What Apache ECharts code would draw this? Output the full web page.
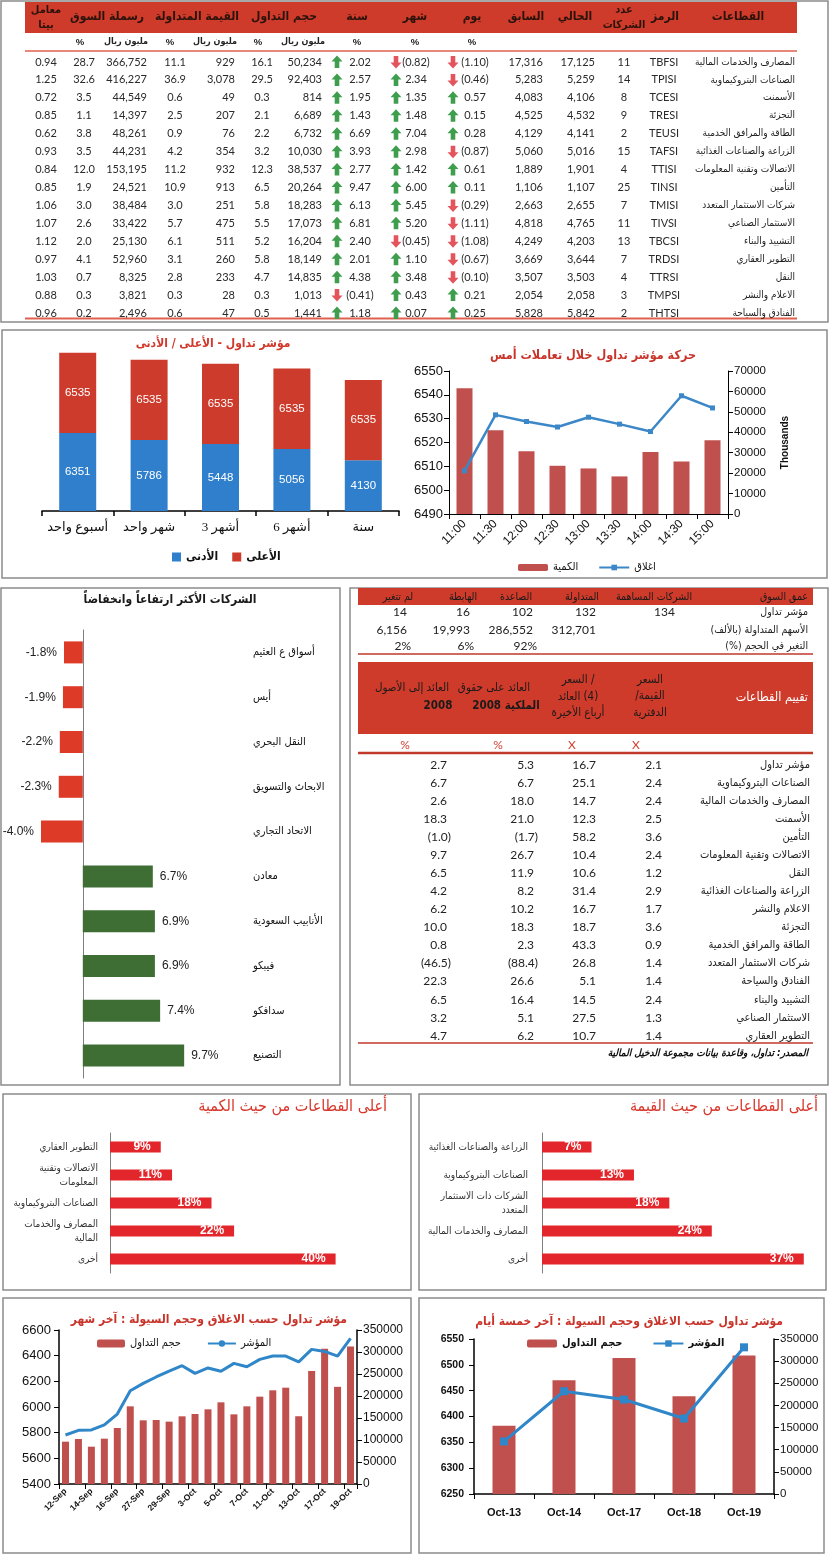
<!DOCTYPE html>
<html><head><meta charset="utf-8">
<script src="https://cdn.jsdelivr.net/npm/echarts@6/dist/echarts.min.js"></script>
<style>html,body{margin:0;padding:0;background:#fff}#c{width:830px;height:1556px}</style>
</head><body><div id="c"></div>
<script>
// ===== Panel 1: sector table =====
const sectorNames = ['المصارف والخدمات المالية','الصناعات البتروكيماوية','الأسمنت','التجزئة','الطاقة والمرافق الخدمية','الزراعة والصناعات الغذائية','الاتصالات وتقنية المعلومات','التأمين','شركات الاستثمار المتعدد','الاستثمار الصناعي','التشييد والبناء','التطوير العقاري','النقل','الاعلام والنشر','الفنادق والسياحة'];
const sectorCodes = ['TBFSI','TPISI','TCESI','TRESI','TEUSI','TAFSI','TTISI','TINSI','TMISI','TIVSI','TBCSI','TRDSI','TTRSI','TMPSI','THTSI'];
const companyCounts = [11,14,8,9,2,15,4,25,7,11,13,7,4,3,2];
const closeCurrent = [17125,5259,4106,4532,4141,5016,1901,1107,2655,4765,4203,3644,3503,2058,5842];
const closePrevious = [17316,5283,4083,4525,4129,5060,1889,1106,2663,4818,4249,3669,3507,2054,5828];
const changeDay = [-1.10,-0.46,0.57,0.15,0.28,-0.87,0.61,0.11,-0.29,-1.11,-1.08,-0.67,-0.10,0.21,0.25];
const changeMonth = [-0.82,2.34,1.35,1.48,7.04,2.98,1.42,6.00,5.45,5.20,-0.45,1.10,3.48,0.43,0.07];
const changeYear = [2.02,2.57,1.95,1.43,6.69,3.93,2.77,9.47,6.13,6.81,2.40,2.01,4.38,-0.41,1.18];
const tradeVolume = [50234,92403,814,6689,6732,10030,38537,20264,18283,17073,16204,18149,14835,1013,1441];
const tradeVolumePct = [16.1,29.5,0.3,2.1,2.2,3.2,12.3,6.5,5.8,5.5,5.2,5.8,4.7,0.3,0.5];
const tradedValue = [929,3078,49,207,76,354,932,913,251,475,511,260,233,28,47];
const tradedValuePct = [11.1,36.9,0.6,2.5,0.9,4.2,11.2,10.9,3.0,5.7,6.1,3.1,2.8,0.3,0.6];
const marketCap = [366752,416227,44549,14397,48261,44231,153195,24521,38484,33422,25130,52960,8325,3821,2496];
const marketCapPct = [28.7,32.6,3.5,1.1,3.8,3.5,12.0,1.9,3.0,2.6,2.0,4.1,0.7,0.3,0.2];
const betaValues = [0.94,1.25,0.72,0.85,0.62,0.93,0.84,0.85,1.06,1.07,1.12,0.97,1.03,0.88,0.96];

// ===== Panel 2 =====
const rangeCats = ['أسبوع واحد','شهر واحد','أشهر 3','أشهر 6','سنة'];
const rangeLow = [6351,5786,5448,5056,4130];
const rangeHigh = [6535,6535,6535,6535,6535];
const intradayTimes = ['11:00','11:30','12:00','12:30','13:00','13:30','14:00','14:30','15:00'];
const intradayVolume = [61500,41000,30700,23600,22300,18400,30300,25700,36100];
const intradayClose = [6508.1,6531.6,6528.8,6526.5,6530.6,6527.7,6524.6,6539.6,6534.5];

// ===== Panel 3 =====
const moverNames = ['أسواق ع العثيم','أيس','النقل البحري','الابحاث والتسويق','الاتحاد التجاري','معادن','الأنابيب السعودية','فيبكو','سدافكو','التصنيع'];
const moverChange = [-1.8,-1.9,-2.2,-2.3,-4.0,6.7,6.9,6.9,7.4,9.7];
const depthHeaders = ['الشركات المساهمة','المتداولة','الصاعدة','الهابطة','لم تتغير'];
const depthRowLabels = ['مؤشر تداول','الأسهم المتداولة (بالألف)\u200F','التغير في الحجم (%)\u200F'];
const depthCompanies = [134,132,102,16,14];
const depthShares = [null,312701,286552,19993,6156];
const depthSharePct = [null,null,92,6,2];
const valuationNames = ['مؤشر تداول','الصناعات البتروكيماوية','المصارف والخدمات المالية','الأسمنت','التأمين','الاتصالات وتقنية المعلومات','النقل','الزراعة والصناعات الغذائية','الاعلام والنشر','التجزئة','الطاقة والمرافق الخدمية','شركات الاستثمار المتعدد','الفنادق والسياحة','التشييد والبناء','الاستثمار الصناعي','التطوير العقاري'];
const priceToBook = [2.1,2.4,2.4,2.5,3.6,2.4,1.2,2.9,1.7,3.6,0.9,1.4,1.4,2.4,1.3,1.4];
const priceToEarnings = [16.7,25.1,14.7,12.3,58.2,10.4,10.6,31.4,16.7,18.7,43.3,26.8,5.1,14.5,27.5,10.7];
const returnOnEquity = [5.3,6.7,18.0,21.0,-1.7,26.7,11.9,8.2,10.2,18.3,2.3,-88.4,26.6,16.4,5.1,6.2];
const returnOnAssets = [2.7,6.7,2.6,18.3,-1.0,9.7,6.5,4.2,6.2,10.0,0.8,-46.5,22.3,6.5,3.2,4.7];

// ===== Panel 4 =====
const volumeLeaders = ['التطوير العقاري','الاتصالات وتقنية المعلومات','الصناعات البتروكيماوية','المصارف والخدمات المالية','أخرى'];
const volumeShare = [9,11,18,22,40];
const valueLeaders = ['الزراعة والصناعات الغذائية','الصناعات البتروكيماوية','الشركات ذات الاستثمار المتعدد','المصارف والخدمات المالية','أخرى'];
const valueShare = [7,13,18,24,37];

// ===== Panel 5 =====
const monthDates = ['12-Sep','13-Sep','14-Sep','15-Sep','16-Sep','26-Sep','27-Sep','28-Sep','29-Sep','30-Sep','3-Oct','4-Oct','5-Oct','6-Oct','7-Oct','10-Oct','11-Oct','12-Oct','13-Oct','14-Oct','17-Oct','18-Oct','19-Oct'];
const monthVolume = [96200,102300,84800,103000,127300,176500,144700,145500,141700,153800,159100,169700,185600,158300,176500,198500,212900,218900,154000,256900,307200,220800,312701];
const monthIndex = [5782,5818,5821,5860,5945,6127,6184,6234,6280,6322,6262,6304,6278,6340,6314,6371,6397,6397,6352,6449,6433,6396,6534];
const weekDates = ['Oct-13','Oct-14','Oct-17','Oct-18','Oct-19'];
const weekVolume = [154000,256900,307200,220800,312701];
const weekIndex = [6351.7,6448.9,6432.8,6396.1,6533.9];

// ===== styles =====
const SANS = "'Liberation Sans','DejaVu Sans Condensed','DejaVu Sans',sans-serif";
const TAB = "Lato,'DejaVu Sans Condensed','DejaVu Sans',sans-serif";
const ARF = "'DejaVu Sans Condensed','DejaVu Sans',sans-serif";
const RED_HDR = '#cf3b2a';
const BAR_RED = '#c0504d';
const LINE_BLUE = '#2f86c8';

const fmtInt = v => v.toLocaleString('en-US');
const fmtChg = v => v < 0 ? '(' + Math.abs(v).toFixed(2) + ')' : v.toFixed(2);
const fmt1 = v => v < 0 ? '(' + Math.abs(v).toFixed(1) + ')' : v.toFixed(1);
const plain = v => String(v);

function T(x, y, text, o) {
  o = o || {};
  const font = (o.italic ? 'italic ' : '') + (o.bold ? 'bold ' : '') + (o.size || 11) + 'px ' + (o.family || TAB);
  const al = o.align || 'center';
  return {type:'text', x:x, y:y, silent:true, z:20,
    style:{text:String(text), fill:o.color || '#222', font:font, align:al, textAlign:al, verticalAlign:'middle', textVerticalAlign:'middle'}};
}
function R(x, y, w, h, fill, stroke, lw) {
  return {type:'rect', silent:true, z:fill && fill !== 'none' ? 5 : 1, shape:{x:x, y:y, width:w, height:h},
    style:{fill:fill || 'none', stroke:stroke || null, lineWidth:lw || 1}};
}
function L(x1, y1, x2, y2, color, w) {
  return {type:'line', silent:true, z:6, shape:{x1:x1, y1:y1, x2:x2, y2:y2}, style:{stroke:color, lineWidth:w}};
}
function arrow(cx, cy, up) {
  const s = up ? -1 : 1;
  const pts = [[cx, cy + s*6.5],[cx+5.5, cy + s*0.5],[cx+2.3, cy + s*0.5],[cx+2.3, cy - s*6],[cx-2.3, cy - s*6],[cx-2.3, cy + s*0.5],[cx-5.5, cy + s*0.5]];
  return {type:'polygon', silent:true, z:20, shape:{points:pts}, style:{fill: up ? '#3f9e4d' : '#e3545c'}};
}

const g = [];
// panel boxes
[[1,1,827,321],[2,330,825,248],[1,588,339,497],[350,588,478,497],[3,1094,408,196],[419,1094,407,196],[3,1298,408,255],[419,1298,405,255]]
  .forEach(b => g.push(R(b[0], b[1], b[2], b[3], 'none', '#8c8c8c', 1.5)));

// ---- top table ----
g.push(R(25, 2, 772, 31, RED_HDR));
const hdrC = '#2b130c';
[['القطاعات',738],['الرمز',665],['الحالي',575],['السابق',526],['يوم',472],['شهر',415],['سنة',357],['حجم التداول',284],['القيمة المتداولة',197],['رسملة السوق',107]]
  .forEach(h => g.push(T(h[1], 17, h[0], {bold:true, size:12, family:ARF, color:hdrC})));
g.push(T(624, 10, 'عدد', {bold:true, size:11, family:ARF, color:hdrC}));
g.push(T(624, 25, 'الشركات', {bold:true, size:11, family:ARF, color:hdrC}));
g.push(T(46, 10, 'معامل', {bold:true, size:11, family:ARF, color:hdrC}));
g.push(T(46, 25, 'بيتا', {bold:true, size:11, family:ARF, color:hdrC}));
[472,415,357,258,170,80].forEach(x => g.push(T(x, 42, '%', {bold:true, size:9.5, family:SANS})));
[303,215,126].forEach(x => g.push(T(x, 42, 'مليون ريال', {bold:true, size:9, family:ARF})));
g.push(L(25, 51, 797, 51, '#e0604f', 1.5));
g.push(L(25, 318.5, 797, 318.5, '#e0604f', 2));
const topCols = [
  {v:betaValues, f:v => v.toFixed(2), x:46, a:'center'},
  {v:marketCapPct, f:v => v.toFixed(1), x:84, a:'center'},
  {v:marketCap, f:fmtInt, x:147, a:'right'},
  {v:tradedValuePct, f:v => v.toFixed(1), x:175, a:'center'},
  {v:tradedValue, f:fmtInt, x:235, a:'right'},
  {v:tradeVolumePct, f:v => v.toFixed(1), x:262, a:'center'},
  {v:tradeVolume, f:fmtInt, x:322, a:'right'},
  {v:changeYear, f:fmtChg, x:360, a:'center', arrow:337},
  {v:changeMonth, f:fmtChg, x:416, a:'center', arrow:396},
  {v:changeDay, f:fmtChg, x:475, a:'center', arrow:453},
  {v:closePrevious, f:fmtInt, x:543, a:'right'},
  {v:closeCurrent, f:fmtInt, x:595, a:'right'},
  {v:companyCounts, f:String, x:624, a:'center'},
  {v:sectorCodes, f:String, x:664, a:'center'}
];
sectorNames.forEach((name, i) => {
  const y = 62 + i * 17.93;
  topCols.forEach(c => {
    const val = c.v[i];
    g.push(T(c.x, y, c.f(val), {align:c.a, size:11, color:'#2a2a2a'}));
    if (c.arrow) g.push(arrow(c.arrow, y, val >= 0));
  });
  g.push(T(795, y, name, {align:'right', size:10, family:ARF, color:'#1e1e1e'}));
});

// ---- depth table ----
g.push(R(358, 588, 455, 17, RED_HDR));
g.push(T(808, 597, 'عمق السوق', {align:'right', size:10.5, family:ARF, color:'#1a1a1a'}));
[654,582,516,463,398].forEach((x, j) => g.push(T(x, 597, depthHeaders[j], {size:10.5, family:ARF, color:'#1a1a1a'})));
const depthRight = [675,596,533,470,407];
const depthY = [612,630,646];
depthRowLabels.forEach((lab, r) => g.push(T(808, depthY[r], lab, {align:'right', size:10.5, family:ARF})));
depthCompanies.forEach((v, j) => { if (v !== null) g.push(T(depthRight[j], depthY[0], fmtInt(v), {align:'right', size:12})); });
depthShares.forEach((v, j) => { if (v !== null) g.push(T(depthRight[j], depthY[1], fmtInt(v), {align:'right', size:12})); });
depthSharePct.forEach((v, j) => { if (v !== null) g.push(T(depthRight[j] + 4, depthY[2], v + '%', {align:'right', size:12})); });
g.push(L(358, 654, 813, 654, '#c0392b', 1.5));

// ---- valuation table ----
g.push(R(358, 662, 455, 72, RED_HDR));
g.push(T(808, 698, 'تقييم القطاعات', {align:'right', size:12.5, family:ARF, color:'#ffffff'}));
const vh = {size:11.5, family:ARF, color:'#1a1a1a'};
g.push(T(650, 680, 'السعر', vh));
g.push(T(650, 696, '/القيمة', vh));
g.push(T(650, 713, 'الدفترية', vh));
g.push(T(578, 680, 'السعر /', vh));
g.push(T(578, 697, 'العائد\u200E (4)', vh));
g.push(T(578, 713, 'أرباع الأخيرة', vh));
g.push(T(494, 688, 'العائد على حقوق', vh));
g.push(T(506, 706, '2008\u200E الملكية', Object.assign({}, vh, {bold:true})));
g.push(T(412, 688, 'العائد إلى الأصول', vh));
g.push(T(438, 706, '2008', Object.assign({}, vh, {bold:true})));
[[405,'%'],[498,'%'],[572,'X'],[636,'X']].forEach(u => g.push(T(u[0], 745, u[1], {size:12, color:'#d04030'})));
g.push(L(358, 753, 813, 753, '#c0392b', 2.5));
const valCols = [
  {v:priceToBook, x:662},
  {v:priceToEarnings, x:596},
  {v:returnOnEquity, x:534},
  {v:returnOnAssets, x:447}
];
valuationNames.forEach((name, i) => {
  const y = 765 + i * 18.05;
  g.push(T(810, y, name, {align:'right', size:11, family:ARF}));
  valCols.forEach(c => {
    const v = c.v[i];
    g.push(T(c.x + (v < 0 ? 4 : 0), y, fmt1(v), {align:'right', size:12}));
  });
});
g.push(L(358, 1043, 813, 1043, '#c0392b', 1.5));
g.push(T(808, 1053, 'المصدر: تداول، وقاعدة بيانات مجموعة الدخيل المالية', {align:'right', size:10, bold:true, italic:true, family:ARF, color:'#111'}));

// ---- chart titles ----
g.push(T(213, 344, 'مؤشر تداول - الأعلى / الأدنى', {bold:true, size:12, family:ARF, color:'#d0392b'}));
g.push(T(593, 356, 'حركة مؤشر تداول خلال تعاملات أمس', {bold:true, size:12.5, family:ARF, color:'#c8342a'}));
g.push(T(170, 600, 'الشركات الأكثر ارتفاعاً وانخفاضاً', {bold:true, size:12, family:ARF, color:'#1a1a1a'}));
g.push(T(387, 1107, 'أعلى القطاعات من حيث الكمية', {align:'right', size:16, family:ARF, color:'#d8362b'}));
g.push(T(818, 1107, 'أعلى القطاعات من حيث القيمة', {align:'right', size:16, family:ARF, color:'#d8362b'}));
g.push(T(347, 1320, 'مؤشر تداول حسب الاغلاق وحجم السيولة : آخر شهر', {align:'right', bold:true, size:12, family:ARF, color:'#c8342a'}));
g.push(T(783, 1322, 'مؤشر تداول حسب الاغلاق وحجم السيولة : آخر خمسة أيام', {align:'right', bold:true, size:12, family:ARF, color:'#c8342a'}));

function wrapWords(name, minWords) {
  const w = name.split(' ');
  if (w.length >= minWords) return w.slice(0, -1).join(' ') + '\n' + w[w.length - 1];
  return name;
}

const blackLine = {lineStyle:{color:'#000', width:1}};
const blackLine15 = {lineStyle:{color:'#000', width:1.5}};
const lab = (size, extra) => Object.assign({fontSize:size, color:'#111', fontFamily:SANS}, extra || {});

const option = {
  animation:false,
  textStyle:{fontFamily:SANS},
  grid:[
    {left:42, top:339, width:357, height:172, outerBoundsMode:'none'},
    {left:449, top:371, width:279, height:143, outerBoundsMode:'none'},
    {left:41, top:630, width:209, height:448, outerBoundsMode:'none'},
    {left:110, top:1133, width:282, height:140, outerBoundsMode:'none'},
    {left:542, top:1133, width:283, height:140, outerBoundsMode:'none'},
    {left:59, top:1330, width:298, height:154, outerBoundsMode:'none'},
    {left:474, top:1339, width:300, height:155, outerBoundsMode:'none'}
  ],
  xAxis:[
    {gridIndex:0, type:'category', data:rangeCats, axisLine:blackLine15, axisTick:{show:true, length:5, lineStyle:{color:'#000', width:1.5}},
      axisLabel:lab(13, {fontFamily:"'Liberation Serif','DejaVu Sans',serif", margin:10, interval:0})},
    {gridIndex:1, type:'category', data:intradayTimes, axisLine:blackLine, axisTick:{show:true, lineStyle:{color:'#000'}},
      axisLabel:lab(12, {rotate:45, margin:8, interval:0})},
    {gridIndex:2, type:'value', min:-4, max:16, show:false},
    {gridIndex:3, type:'value', min:0, max:50, show:false},
    {gridIndex:4, type:'value', min:0, max:40, show:false},
    {gridIndex:5, type:'category', data:monthDates, axisLine:blackLine15, axisTick:{show:true, lineStyle:{color:'#000'}},
      axisLabel:lab(8.5, {rotate:45, interval:1, fontWeight:'bold', margin:6})},
    {gridIndex:6, type:'category', data:weekDates, axisLine:blackLine15, axisTick:{show:true, lineStyle:{color:'#000'}},
      axisLabel:lab(11, {fontWeight:'bold', margin:13, interval:0})}
  ],
  yAxis:[
    {gridIndex:0, type:'value', min:0, max:14000, show:false},
    {gridIndex:1, type:'value', min:6490, max:6550, interval:10, axisLine:{show:true, lineStyle:{color:'#000'}}, axisTick:{show:true, lineStyle:{color:'#000'}},
      splitLine:{show:false}, axisLabel:lab(13, {margin:6, formatter:plain})},
    {gridIndex:1, type:'value', position:'right', min:0, max:70000, interval:10000, axisLine:{show:true, lineStyle:{color:'#000'}}, axisTick:{show:true, lineStyle:{color:'#000'}},
      splitLine:{show:false}, axisLabel:lab(11.5, {margin:6, formatter:plain}), name:'Thousands', nameLocation:'middle', nameRotate:90, nameGap:52,
      nameTextStyle:{fontSize:10, fontWeight:'bold', color:'#111', fontFamily:SANS}},
    {gridIndex:2, type:'category', data:moverNames, inverse:true, axisLine:{show:true, onZero:true, lineStyle:{color:'#7f7f7f', width:1}},
      axisTick:{show:false}, axisLabel:{show:false}},
    {gridIndex:2, type:'category', data:moverNames, inverse:true, position:'right', axisLine:{show:false, onZero:false},
      axisTick:{show:false}, axisLabel:lab(11, {align:'left', margin:3, fontFamily:ARF, interval:0})},
    {gridIndex:3, type:'category', data:volumeLeaders, inverse:true, axisLine:{show:true, lineStyle:{color:'#808080'}}, axisTick:{show:false},
      axisLabel:lab(10, {margin:12, color:'#333', fontFamily:ARF, lineHeight:14, interval:0, formatter:v => wrapWords(v, 3)})},
    {gridIndex:4, type:'category', data:valueLeaders, inverse:true, axisLine:{show:true, lineStyle:{color:'#808080'}}, axisTick:{show:false},
      axisLabel:lab(10, {margin:14, color:'#333', fontFamily:ARF, lineHeight:14, interval:0, formatter:v => wrapWords(v, 4)})},
    {gridIndex:5, type:'value', min:5400, max:6600, interval:200, axisLine:{show:true, lineStyle:{color:'#000', width:1.5}}, axisTick:{show:true, lineStyle:{color:'#000'}},
      splitLine:{show:false}, axisLabel:lab(13, {margin:8, formatter:plain})},
    {gridIndex:5, type:'value', position:'right', min:0, max:350000, interval:50000, axisLine:{show:true, lineStyle:{color:'#000', width:1.5}}, axisTick:{show:true, lineStyle:{color:'#000'}},
      splitLine:{show:false}, axisLabel:lab(12, {margin:6, formatter:plain})},
    {gridIndex:6, type:'value', min:6250, max:6550, interval:50, axisLine:{show:true, lineStyle:{color:'#000', width:1.5}}, axisTick:{show:true, lineStyle:{color:'#000'}},
      splitLine:{show:false}, axisLabel:lab(10.5, {fontWeight:'bold', margin:10, formatter:plain})},
    {gridIndex:6, type:'value', position:'right', min:0, max:350000, interval:50000, axisLine:{show:true, lineStyle:{color:'#000', width:1.5}}, axisTick:{show:true, lineStyle:{color:'#000'}},
      splitLine:{show:false}, axisLabel:lab(11.5, {margin:6, formatter:plain})}
  ],
  legend:[
    {data:['الأدنى','الأعلى'], left:172, top:551, itemWidth:9, itemHeight:9, itemGap:14, icon:'rect', padding:0, selectedMode:false,
      textStyle:{fontSize:12, fontWeight:'bold', color:'#111', fontFamily:ARF}},
    {data:['الكمية','اغلاق'], left:518, top:562, itemWidth:30, itemHeight:7, itemGap:20, padding:0, selectedMode:false,
      textStyle:{fontSize:11, color:'#111', fontFamily:ARF}},
    {data:['حجم التداول','المؤشر'], left:97, top:1338, itemWidth:28, itemHeight:8, itemGap:26, padding:0, selectedMode:false,
      textStyle:{fontSize:11, color:'#111', fontFamily:ARF}},
    {data:['حجم التداول\u200F','المؤشر\u200F'], left:527, top:1338, itemWidth:30, itemHeight:8, itemGap:30, padding:0, selectedMode:false,
      textStyle:{fontSize:11, fontWeight:'bold', color:'#111', fontFamily:ARF}}
  ],
  series:[
    {type:'bar', name:'الأدنى', xAxisIndex:0, yAxisIndex:0, stack:'hl', data:rangeLow, barWidth:37, itemStyle:{color:'#2f7fcc'},
      label:{show:true, position:'inside', color:'#fff', fontSize:11.5}},
    {type:'bar', name:'الأعلى', xAxisIndex:0, yAxisIndex:0, stack:'hl', data:rangeHigh, barWidth:37, itemStyle:{color:'#cc3b2b'},
      label:{show:true, position:'inside', color:'#fff', fontSize:11.5}},
    {type:'bar', name:'الكمية', xAxisIndex:1, yAxisIndex:2, data:intradayVolume, barWidth:16, itemStyle:{color:BAR_RED}},
    {type:'line', name:'اغلاق', xAxisIndex:1, yAxisIndex:1, data:intradayClose, symbol:'rect', symbolSize:5,
      lineStyle:{color:'#3b87c7', width:2.5}, itemStyle:{color:'#3b87c7'}},
    {type:'bar', name:'movers', xAxisIndex:2, yAxisIndex:3, barWidth:22,
      data:moverChange.map(v => ({value:v, itemStyle:{color: v < 0 ? '#dd3a28' : '#3f6e35'}, label:{position: v < 0 ? 'left' : 'right'}})),
      label:{show:true, distance:7, fontSize:12, color:'#222', formatter:p => p.value.toFixed(1) + '%'}},
    {type:'bar', name:'vol', xAxisIndex:3, yAxisIndex:5, data:volumeShare, barWidth:11, itemStyle:{color:'#e2262b'},
      label:{show:true, position:'insideRight', distance:10, formatter:'{c}%', color:'#fff', fontWeight:'bold', fontSize:12}},
    {type:'bar', name:'val', xAxisIndex:4, yAxisIndex:6, data:valueShare, barWidth:11, itemStyle:{color:'#e2262b'},
      label:{show:true, position:'insideRight', distance:10, formatter:'{c}%', color:'#fff', fontWeight:'bold', fontSize:12}},
    {type:'bar', name:'حجم التداول', xAxisIndex:5, yAxisIndex:8, data:monthVolume, barWidth:7, itemStyle:{color:BAR_RED}},
    {type:'line', name:'المؤشر', xAxisIndex:5, yAxisIndex:7, data:monthIndex, symbol:'none',
      lineStyle:{color:LINE_BLUE, width:3}, itemStyle:{color:LINE_BLUE}},
    {type:'bar', name:'حجم التداول\u200F', xAxisIndex:6, yAxisIndex:10, data:weekVolume, barWidth:23, itemStyle:{color:BAR_RED}},
    {type:'line', name:'المؤشر\u200F', xAxisIndex:6, yAxisIndex:9, data:weekIndex, symbol:'rect', symbolSize:8,
      lineStyle:{color:LINE_BLUE, width:3}, itemStyle:{color:LINE_BLUE}}
  ],
  graphic:{elements:g}
};
const chart = echarts.init(document.getElementById('c'), null, {renderer:'canvas', width:830, height:1556});
chart.setOption(option);
</script>
</body></html>
